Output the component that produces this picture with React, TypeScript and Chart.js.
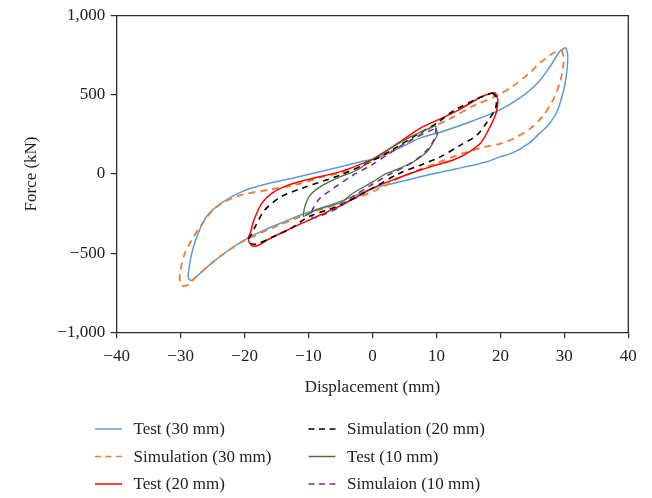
import React, { useEffect, useRef } from "react";
import { Chart, registerables } from "chart.js";

Chart.register(...registerables);

// ---- Data (displacement mm, force kN) ----
const test30X = [30.2, 30.5, 30.5, 30.3, 29.8, 28.8, 27.5, 26.2, 24.5, 22.0, 19.9, 17.9, 13.0, 8.0, 3.3, 0.0, -5.0, -10.3, -13.6, -17.3, -20.4, -23.0, -25.6, -27.3, -28.4, -28.8, -28.7, -28.3, -27.7, -26.9, -25.8, -23.8, -20.4, -16.3, -12.0, -7.1, -1.9, 0.2, 3.5, 7.5, 10.6, 15.3, 19.9, 23.1, 25.7, 27.8, 29.3, 30.2];
const test30Y = [800, 760, 700, 620, 515, 390, 310, 260, 195, 135, 108, 78, 32, -12, -59, -92, -173, -245, -298, -361, -425, -496, -579, -640, -673, -655, -600, -506, -423, -340, -260, -188, -111, -60, -22, 25, 77, 95, 150, 228, 264, 330, 405, 482, 570, 681, 775, 800];

const sim30X = [29.6, 29.9, 29.7, 29.3, 28.3, 26.7, 24.6, 22.0, 19.9, 17.5, 13.7, 10.0, 5.0, 0.0, -5.0, -10.0, -15.0, -20.0, -23.0, -25.6, -27.7, -28.6, -29.3, -29.8, -30.1, -30.1, -29.3, -28.2, -26.9, -25.0, -23.0, -20.4, -16.3, -12.1, -7.7, -2.4, 0.7, 5.0, 9.0, 12.1, 15.8, 19.4, 22.0, 24.6, 26.2, 28.3, 29.6];
const sim30Y = [785, 723, 650, 577, 473, 369, 285, 223, 191, 170, 125, 68, -10, -112, -185, -250, -330, -420, -496, -579, -655, -694, -707, -705, -680, -620, -496, -413, -329, -230, -173, -131, -100, -69, -17, 35, 98, 185, 290, 348, 431, 494, 556, 640, 702, 764, 785];

const test20X = [19.2, 19.6, 19.5, 19.2, 18.1, 16.8, 14.7, 12.7, 10.1, 7.5, 4.0, 0.0, -5.0, -10.3, -13.1, -16.3, -17.8, -18.8, -19.3, -19.4, -19.1, -18.6, -18.3, -17.3, -15.7, -13.1, -10.5, -5.0, -0.9, 0.7, 4.0, 7.5, 10.6, 13.7, 16.8, 18.5, 19.2];
const test20Y = [514, 470, 420, 369, 275, 191, 129, 90, 58, 25, -25, -90, -200, -298, -350, -413, -450, -455, -430, -400, -371, -298, -267, -184, -121, -69, -38, 15, 77, 108, 195, 290, 348, 410, 483, 510, 514];

const sim20X = [18.7, 19.3, 19.4, 19.2, 17.9, 16.3, 13.7, 10.6, 7.5, 4.0, 0.0, -5.0, -10.0, -12.6, -15.7, -18.3, -19.2, -19.4, -18.9, -18.3, -16.8, -14.2, -11.0, -5.0, -0.9, 3.0, 7.0, 10.0, 12.7, 16.8, 18.7];
const sim20Y = [512, 490, 460, 410, 327, 244, 181, 108, 56, 0, -90, -195, -270, -340, -400, -444, -435, -415, -380, -329, -225, -142, -90, -6, 67, 150, 250, 320, 400, 483, 512];

const test10X = [9.8, 10.1, 10.1, 9.5, 8.5, 6.4, 4.5, 3.3, 2.0, 0.0, -3.0, -5.0, -8.7, -10.3, -10.8, -10.8, -10.5, -9.7, -7.7, -5.0, -2.4, 0.2, 3.3, 6.4, 9.5, 9.8];
const test10Y = [306, 270, 244, 200, 140, 77, 40, 20, 0, -50, -120, -180, -225, -260, -267, -250, -194, -131, -69, -17, 25, 98, 175, 244, 300, 306];

const sim10X = [9.9, 9.9, 9.4, 8.5, 7.0, 5.0, 3.0, 0.0, -3.0, -5.0, -7.5, -9.2, -9.6, -9.6, -9.2, -8.2, -6.1, -3.0, 0.0, 3.0, 6.0, 9.9];
const sim10Y = [290, 250, 200, 150, 95, 45, 5, -65, -140, -205, -255, -277, -265, -250, -210, -152, -90, -6, 60, 140, 215, 290];

const seriesNames = ["Test (30 mm)", "Simulation (30 mm)", "Test (20 mm)", "Simulation (20 mm)", "Test (10 mm)", "Simulaion (10 mm)"];
const xTickValues = [-40, -30, -20, -10, 0, 10, 20, 30, 40];
const yTickValues = [-1000, -500, 0, 500, 1000];

const FONT = "'Liberation Serif', 'Times New Roman', serif";
const AXIS = "#2b2b2b";

function pts(xs: number[], ys: number[]) {
  return xs.map((x, i) => ({ x, y: ys[i] }));
}

function fmt(v: number) {
  return Number(v).toLocaleString("en-US").replace("-", "\u2212");
}

const styles = [
  { color: "#5B9BD5", dash: [] as number[], width: 1.5 },
  { color: "#ED7D31", dash: [7, 5], width: 1.8 },
  { color: "#FF0000", dash: [] as number[], width: 1.5 },
  { color: "#000000", dash: [6, 5], width: 1.6 },
  { color: "#4A7535", dash: [] as number[], width: 1.3 },
  { color: "#7030A0", dash: [6, 5], width: 1.6 },
];

const framePlugin = {
  id: "frame",
  afterDraw(chart: any) {
    const { ctx, chartArea } = chart;
    ctx.save();
    ctx.strokeStyle = AXIS;
    ctx.lineWidth = 1.3;
    ctx.beginPath();
    ctx.moveTo(chartArea.left, chartArea.top);
    ctx.lineTo(chartArea.right, chartArea.top);
    ctx.lineTo(chartArea.right, chartArea.bottom);
    ctx.stroke();
    ctx.restore();
  },
};

const legendPlugin = {
  id: "customLegend",
  afterDraw(chart: any) {
    const { ctx } = chart;
    const colX = [95, 308.5];
    const rowY = [429, 456.5, 484];
    const lineLen = 27;
    ctx.save();
    chart.data.datasets.forEach((ds: any, i: number) => {
      const col = i < 3 ? 0 : 1;
      const row = i % 3;
      const x = colX[col];
      const y = rowY[row];
      ctx.strokeStyle = ds.borderColor;
      ctx.lineWidth = 1.5;
      ctx.setLineDash(ds.borderDash && ds.borderDash.length ? [6, 4.5] : []);
      ctx.beginPath();
      ctx.moveTo(x, y);
      ctx.lineTo(x + lineLen, y);
      ctx.stroke();
      ctx.setLineDash([]);
      ctx.fillStyle = "#222";
      ctx.font = `17px ${FONT}`;
      ctx.textBaseline = "middle";
      ctx.textAlign = "left";
      ctx.fillText(ds.label, x + lineLen + 11.5, y + 1);
    });
    ctx.restore();
  },
};

export default function App() {
  const ref = useRef<HTMLCanvasElement | null>(null);

  useEffect(() => {
    document.body.style.margin = "0";
    const canvas = ref.current;
    if (!canvas) return;
    const series = [
      pts(test30X, test30Y),
      pts(sim30X, sim30Y),
      pts(test20X, test20Y),
      pts(sim20X, sim20Y),
      pts(test10X, test10Y),
      pts(sim10X, sim10Y),
    ];
    const chart = new Chart(canvas, {
      type: "scatter",
      data: {
        datasets: series.map((data, i) => ({
          label: seriesNames[i],
          data,
          showLine: true,
          borderColor: styles[i].color,
          backgroundColor: styles[i].color,
          borderDash: styles[i].dash,
          borderWidth: styles[i].width,
          pointRadius: 0,
          pointHoverRadius: 0,
          tension: 0.3,
          fill: false,
          order: 6 - i,
        })),
      },
      options: {
        responsive: false,
        animation: false,
        devicePixelRatio: 1,
        layout: { padding: { left: 0, top: 12.3, right: 23.7, bottom: 100 } },
        plugins: { legend: { display: false }, tooltip: { enabled: false } },
        scales: {
          x: {
            type: "linear",
            min: -40,
            max: 40,
            afterFit: (s: any) => {
              s.height = 65.7;
            },
            afterBuildTicks: (s: any) => {
              s.ticks = xTickValues.map((v) => ({ value: v }));
            },
            ticks: {
              callback: (v: any) => fmt(v),
              color: "#222",
              font: { family: FONT, size: 17 },
              padding: 8.5,
              maxRotation: 0,
            },
            grid: { drawOnChartArea: false, drawTicks: true, tickLength: 6, color: AXIS, lineWidth: 1.2 },
            border: { display: true, color: AXIS, width: 1.3 },
            title: {
              display: true,
              text: "Displacement (mm)",
              color: "#222",
              font: { family: FONT, size: 17 },
              padding: { top: 0, bottom: 0 },
            },
          },
          y: {
            type: "linear",
            min: -1000,
            max: 1000,
            afterFit: (s: any) => {
              s.width = 116.7;
            },
            afterBuildTicks: (s: any) => {
              s.ticks = yTickValues.map((v) => ({ value: v }));
            },
            ticks: {
              callback: (v: any) => fmt(v),
              color: "#222",
              font: { family: FONT, size: 17 },
              padding: 5.5,
            },
            grid: { drawOnChartArea: false, drawTicks: true, tickLength: 6, color: AXIS, lineWidth: 1.2 },
            border: { display: true, color: AXIS, width: 1.3 },
            title: {
              display: true,
              text: "Force (kN)",
              color: "#222",
              font: { family: FONT, size: 17 },
              padding: { top: 21, bottom: 0 },
            },
          },
        },
      },
      plugins: [framePlugin, legendPlugin],
    });
    return () => chart.destroy();
  }, []);

  return <canvas ref={ref} width={652} height={498} style={{ display: "block", width: 652, height: 498 }} />;
}
